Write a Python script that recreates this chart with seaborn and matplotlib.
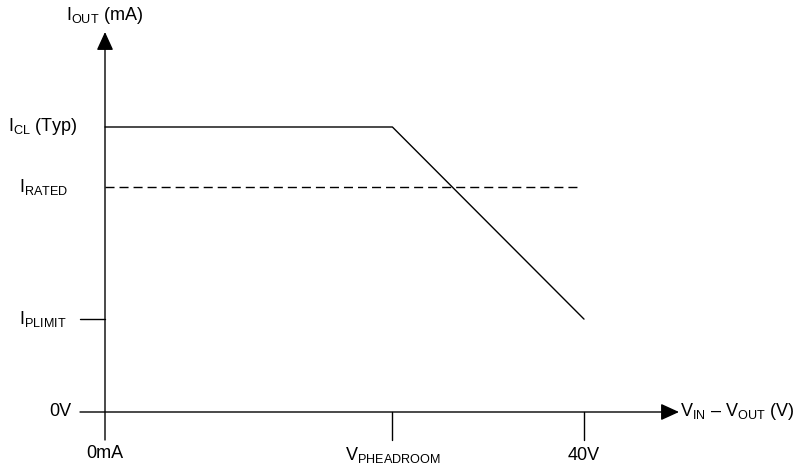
import matplotlib
matplotlib.use("Agg")
import matplotlib.pyplot as plt
import seaborn as sns
import pandas as pd

sns.set_theme(style="white")
plt.rcParams['font.family'] = ['Liberation Sans', 'DejaVu Sans']
plt.rcParams['mathtext.fontset'] = 'custom'
plt.rcParams['mathtext.rm'] = 'Liberation Sans'
plt.rcParams['mathtext.it'] = 'Liberation Sans'

# ---- data (arbitrary units) ----
v_curve = [0, 24, 40]            # V_IN - V_OUT
i_curve = [100, 100, 32.6]       # I_OUT
v_rated = [0, 39.7]
i_rated = [78.9, 78.9]
x_tick_vals = [0, 24, 40]
x_tick_labels = ["0mA", r"V$_{\mathregular{PHEADROOM}}$", "40V"]
y_tick_vals = [100, 78.9, 32.6, 0]
y_tick_labels = [r"I$_{\mathregular{CL}}$ (Typ)", r"I$_{\mathregular{RATED}}$",
                 r"I$_{\mathregular{PLIMIT}}$", "0V"]
x_axis_title = r"V$_{\mathregular{IN}}$ – V$_{\mathregular{OUT}}$ (V)"
y_axis_title = r"I$_{\mathregular{OUT}}$ (mA)"

W, H = 793, 468
fig = plt.figure(figsize=(W / 100, H / 100), dpi=100)
ax = fig.add_axes([0, 0, 1, 1])
ax.set_axis_off()

# pixel mapping helpers (x: 0 at px 105, 40 at px 584; y: 0 at px 412, 100 at px 127)
sx = (584 - 105) / 40.0
sy = (412 - 127) / 100.0
def px2x(p):
    return (p - 105) / sx
def py2y(p):
    return (412 - p) / sy

ax.set_xlim(px2x(0), px2x(W))
ax.set_ylim(py2y(H), py2y(0))

lw = 1.0
col = "black"

# curves
df_curve = pd.DataFrame({"v": v_curve, "i": i_curve})
sns.lineplot(data=df_curve, x="v", y="i", ax=ax, color=col, lw=lw, sort=False)
df_rated = pd.DataFrame({"v": v_rated, "i": i_rated})
sns.lineplot(data=df_rated, x="v", y="i", ax=ax, color=col, lw=lw,
             dashes=False, linestyle=(0, (6.5, 3.6)))

# axes with arrows
astyle = "-|>,head_length=0.7,head_width=0.32"
ax.annotate("", xy=(px2x(679), 0), xytext=(px2x(80), 0),
            arrowprops=dict(arrowstyle=astyle, color=col, lw=lw,
                            mutation_scale=16, shrinkA=0, shrinkB=0))
ax.annotate("", xy=(0, py2y(32)), xytext=(0, py2y(440)),
            arrowprops=dict(arrowstyle=astyle, color=col, lw=lw,
                            mutation_scale=16, shrinkA=0, shrinkB=0))

fs = 13
# x ticks
x_lab_y = {0: 453, 24: 455, 40: 455}
for v, lab in zip(x_tick_vals, x_tick_labels):
    if v != 0:
        ax.plot([v, v], [0, py2y(440)], color=col, lw=lw)
    ax.text(v, py2y(x_lab_y[v]), lab, ha="center", va="center", fontsize=fs, color=col)

# y ticks
y_right = {100: 78, 78.9: 68, 32.6: 66, 0: 71}
for y, lab in zip(y_tick_vals, y_tick_labels):
    if y == 32.6:
        ax.plot([px2x(80), 0], [y, y], color=col, lw=lw)
    ax.text(px2x(y_right[y]), y, lab, ha="right", va="center", fontsize=fs, color=col)

ax.text(px2x(680), 0, x_axis_title, ha="left", va="center", fontsize=fs, color=col)
ax.text(0, py2y(16), y_axis_title, ha="center", va="center", fontsize=fs, color=col)

fig.savefig("out.png", dpi=100)
